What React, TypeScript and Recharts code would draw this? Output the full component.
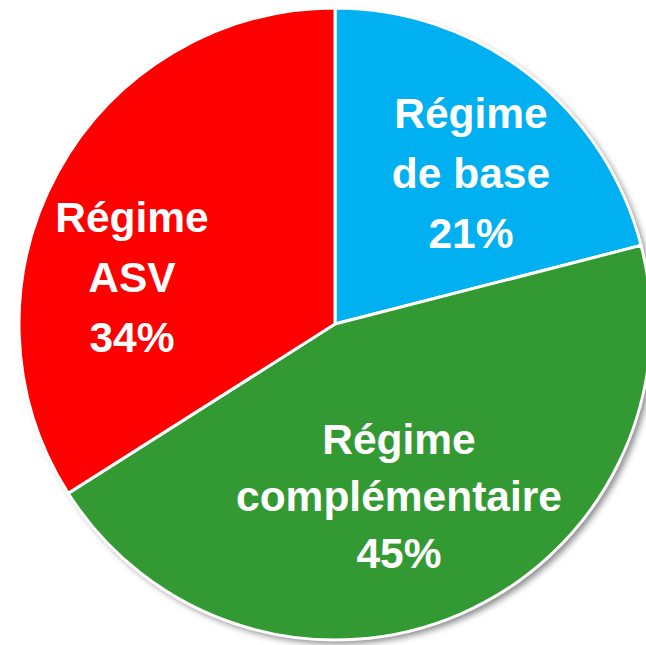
import { PieChart, Pie, Cell } from 'recharts';

const categories = ['Régime de base', 'Régime complémentaire', 'Régime ASV'];
const values = [21, 45, 34];
const labelLines = [
  ['Régime', 'de base', '21%'],
  ['Régime', 'complémentaire', '45%'],
  ['Régime', 'ASV', '34%'],
];
const colors = ['#00B0F0', '#339933', '#FF0000'];

// décalage du centre du texte (ligne du milieu) par rapport au centre du camembert
const labelOffsets = [
  { dx: 136, dy: -136 },
  { dx: 64, dy: 187 },
  { dx: -203, dy: -32 },
];

const chartData = categories.map((name, i) => ({ name, value: values[i] }));

const renderLabel = (props: any) => {
  const { cx, cy, index } = props;
  const off = labelOffsets[index];
  const lines = labelLines[index];
  const lh = index === 1 ? 57 : 60;
  const x = cx + off.dx;
  const midY = cy + off.dy;
  return (
    <text
      x={x}
      y={midY - lh}
      fill="#fff"
      textAnchor="middle"
      style={{ fontFamily: '"Liberation Sans", Arial, sans-serif', fontWeight: 'bold', fontSize: 42.5 }}
    >
      {lines.map((l, i) => (
        <tspan key={i} x={x} y={midY + (i - 1) * lh}>
          {l}
        </tspan>
      ))}
    </text>
  );
};

export default function App() {
  return (
    <div style={{ position: 'absolute', left: 0, top: 0, background: '#fff' }}>
      <PieChart width={646} height={645} margin={{ top: 0, right: 0, bottom: 0, left: 0 }}>
        <defs>
          <filter id="ombre" x="-10%" y="-10%" width="120%" height="120%">
            <feGaussianBlur stdDeviation="3" />
          </filter>
        </defs>
        <Pie
          data={[{ name: 'ombre', value: 1 }]}
          dataKey="value"
          cx={339}
          cy={328}
          outerRadius={316}
          stroke="none"
          isAnimationActive={false}
          label={false}
          labelLine={false}
        >
          <Cell fill="#000" fillOpacity={0.45} filter="url(#ombre)" />
        </Pie>
        <Pie
          data={chartData}
          dataKey="value"
          nameKey="name"
          cx={335}
          cy={324}
          outerRadius={316}
          startAngle={90}
          endAngle={-270}
          stroke="#fff"
          strokeWidth={3}
          isAnimationActive={false}
          labelLine={false}
          label={renderLabel}
        >
          {chartData.map((d, i) => (
            <Cell key={d.name} fill={colors[i]} />
          ))}
        </Pie>
      </PieChart>
    </div>
  );
}
